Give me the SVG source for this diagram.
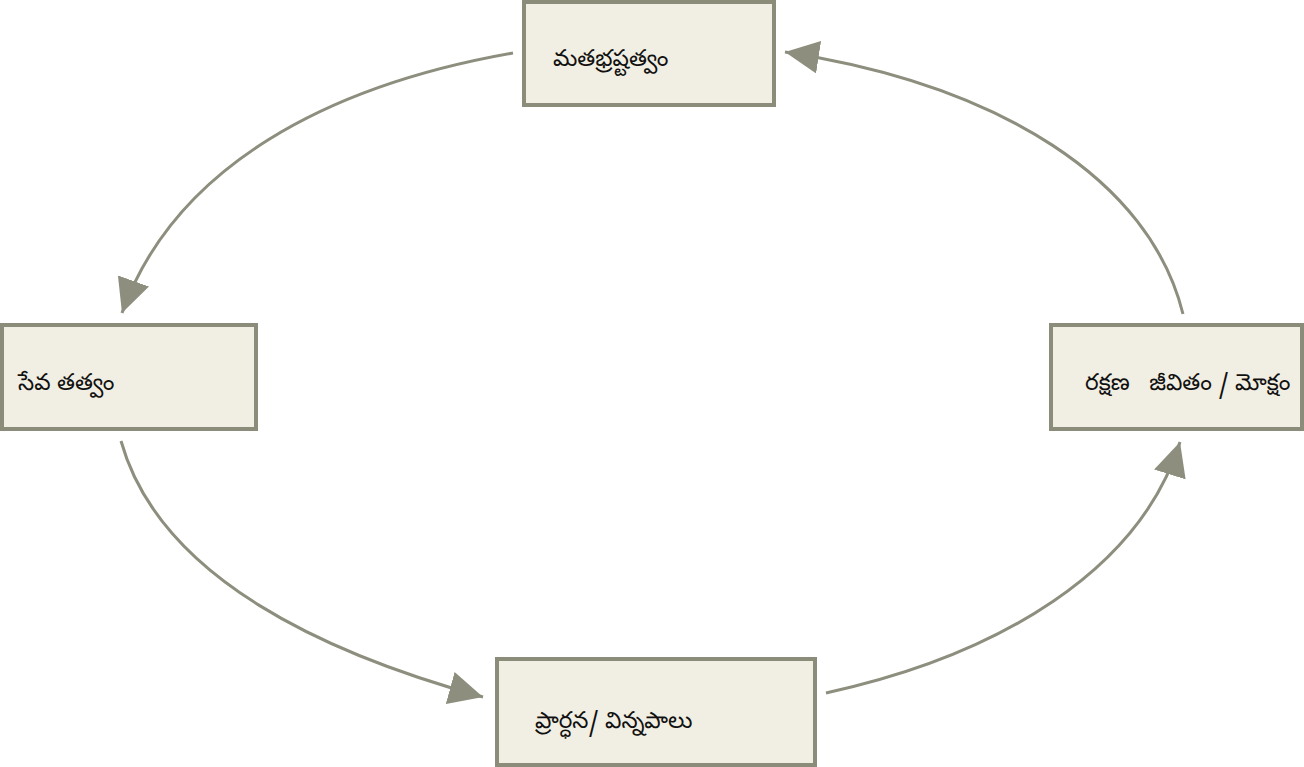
<svg xmlns="http://www.w3.org/2000/svg" width="1304" height="767" viewBox="0 0 1304 767">
<style>
.box{fill:#f1efe3;stroke:#8c8c7b;stroke-width:4}
.lbl{font-family:"Noto Sans Telugu","Noto Sans","DejaVu Sans",sans-serif;font-size:23px;font-weight:400;fill:#111}
.con{fill:none;stroke:#8e8e7e;stroke-width:3}
</style>
<defs>
<marker id="ah" viewBox="0 0 34 33" refX="34" refY="16.5" markerWidth="34" markerHeight="33" markerUnits="userSpaceOnUse" orient="auto">
<path d="M0,0 L34,16.5 L0,33 z" fill="#8e8e7e"/>
</marker>
</defs>
<rect width="1304" height="767" fill="#ffffff"/>
<g id="connectors">
<path class="con" d="M513,53 C330,85 175,165 122,313" marker-end="url(#ah)"/>
<path class="con" d="M121,441 C160,580 330,655 483,697" marker-end="url(#ah)"/>
<path class="con" d="M826,693 C1000,655 1140,570 1180,442" marker-end="url(#ah)"/>
<path class="con" d="M1183,314 C1150,180 1000,85 785,52" marker-end="url(#ah)"/>
</g>
<g id="node-top">
<rect class="box" x="524" y="2" width="250" height="103"/>
<text class="lbl" x="553" y="66">మతభ్రష్టత్వం</text>
</g>
<g id="node-left">
<rect class="box" x="2" y="325" width="254" height="104"/>
<text class="lbl" x="18" y="390">సేవ తత్వం</text>
</g>
<g id="node-right">
<rect class="box" x="1051" y="325" width="251" height="104"/>
<text class="lbl" x="1085" y="390" xml:space="preserve">రక్షణ   జీవితం / మోక్షం</text>
</g>
<g id="node-bottom">
<rect class="box" x="497" y="659" width="318" height="106"/>
<text class="lbl" x="535" y="728">ప్రార్ధన/ విన్నపాలు</text>
</g>
</svg>
